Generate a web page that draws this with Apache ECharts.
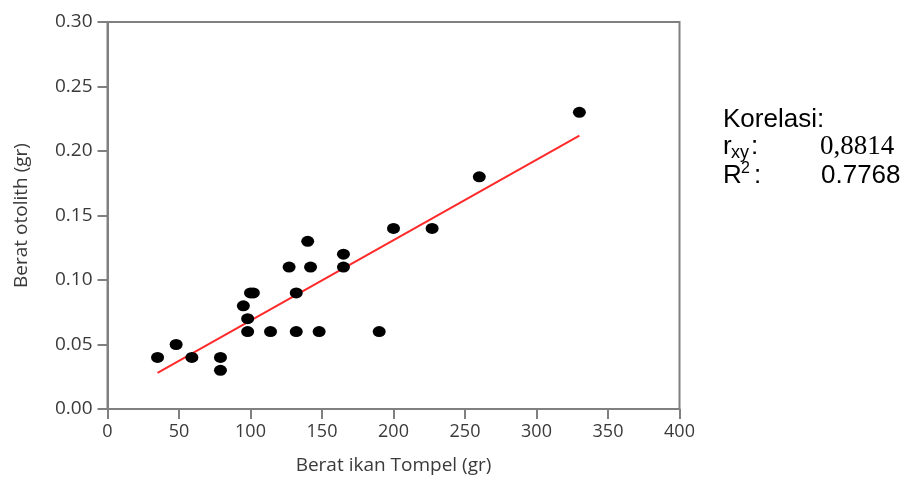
<!DOCTYPE html>
<html>
<head>
<meta charset="utf-8">
<script src="https://cdn.jsdelivr.net/npm/echarts@6/dist/echarts.min.js"></script>
<style>
html,body{margin:0;padding:0;background:#fff;}
#chart{width:902px;height:480px;}
</style>
</head>
<body>
<div id="chart"></div>
<script>
// Data
var fishWeight = [35, 48, 59, 79, 79, 95, 98, 98, 100, 102, 114, 127, 132, 132, 140, 142, 148, 165, 165, 190, 200, 227, 260, 330];
var otolithWeight = [0.04, 0.05, 0.04, 0.04, 0.03, 0.08, 0.07, 0.06, 0.09, 0.09, 0.06, 0.11, 0.09, 0.06, 0.13, 0.11, 0.06, 0.12, 0.11, 0.06, 0.14, 0.14, 0.18, 0.23];
var fitX = [35, 330];
var fitY = [0.028, 0.212];
var xTicks = [0, 50, 100, 150, 200, 250, 300, 350, 400];
var yTicks = [0.00, 0.05, 0.10, 0.15, 0.20, 0.25, 0.30];
var xTitle = 'Berat ikan Tompel (gr)';
var yTitle = 'Berat otolith (gr)';
var corrTitle = 'Korelasi:';
var rxyValue = '0,8814';
var r2Value = '0.7768';

var points = fishWeight.map(function (x, i) { return [x, otolithWeight[i]]; });
var fitLine = fitX.map(function (x, i) { return [x, fitY[i]]; });

var axisGray = '#808080';
var labelColor = '#3a3a3a';
var uiFont = 'Open Sans';

var chart = echarts.init(document.getElementById('chart'), null, {renderer: 'canvas'});
chart.setOption({
  backgroundColor: '#ffffff',
  animation: false,
  grid: {
    left: 107.5, right: 222.5, top: 22, bottom: 70,
    show: true, borderColor: axisGray, borderWidth: 2, backgroundColor: 'transparent'
  },
  xAxis: {
    type: 'value', min: xTicks[0], max: xTicks[xTicks.length - 1], interval: 50,
    name: xTitle, nameLocation: 'middle', nameGap: 47,
    nameTextStyle: {fontFamily: uiFont, fontSize: 19, color: labelColor},
    axisLine: {show: true, lineStyle: {color: axisGray, width: 2}},
    axisTick: {show: true, inside: false, length: 10, lineStyle: {color: axisGray, width: 2}},
    axisLabel: {fontFamily: uiFont, fontSize: 18, color: labelColor, margin: 14},
    splitLine: {show: false}
  },
  yAxis: {
    type: 'value', min: yTicks[0], max: yTicks[yTicks.length - 1], interval: 0.05,
    name: yTitle, nameLocation: 'middle', nameGap: 76, nameRotate: 90,
    nameTextStyle: {fontFamily: uiFont, fontSize: 19, color: labelColor},
    axisLine: {show: true, lineStyle: {color: axisGray, width: 2}},
    axisTick: {show: true, inside: false, length: 10, lineStyle: {color: axisGray, width: 2}},
    axisLabel: {fontFamily: uiFont, fontSize: 19, color: labelColor, margin: 15,
      formatter: function (v) { return v.toFixed(2); }},
    splitLine: {show: false}
  },
  series: [
    {
      type: 'line', data: fitLine, symbol: 'none', silent: true,
      lineStyle: {color: '#ff2a2a', width: 2}, z: 2
    },
    {
      type: 'scatter', data: points, symbol: 'circle', symbolSize: [13, 11],
      itemStyle: {color: '#000000', opacity: 1}, z: 3
    }
  ],
  graphic: [
    {type: 'text', left: 723, top: 107, style: {text: corrTitle, font: '26px "Liberation Sans", Arial, sans-serif', fill: '#000'}},
    {type: 'text', left: 723, top: 134, style: {text: 'r', font: '26px "Liberation Sans", Arial, sans-serif', fill: '#000'}},
    {type: 'text', left: 731, top: 144, style: {text: 'xy', font: '18px "Liberation Sans", Arial, sans-serif', fill: '#000'}},
    {type: 'text', left: 751, top: 134, style: {text: ':', font: '26px "Liberation Sans", Arial, sans-serif', fill: '#000'}},
    {type: 'text', left: 820, top: 133, style: {text: rxyValue, font: '27px "Liberation Serif", "Times New Roman", serif', fill: '#000'}},
    {type: 'text', left: 723, top: 163, style: {text: 'R', font: '26px "Liberation Sans", Arial, sans-serif', fill: '#000'}},
    {type: 'text', left: 741, top: 161, style: {text: '2', font: '16px "Liberation Sans", Arial, sans-serif', fill: '#000'}},
    {type: 'text', left: 754, top: 163, style: {text: ':', font: '26px "Liberation Sans", Arial, sans-serif', fill: '#000'}},
    {type: 'text', left: 821, top: 163, style: {text: r2Value, font: '26px "Liberation Sans", Arial, sans-serif', fill: '#000'}}
  ]
});
</script>
</body>
</html>
